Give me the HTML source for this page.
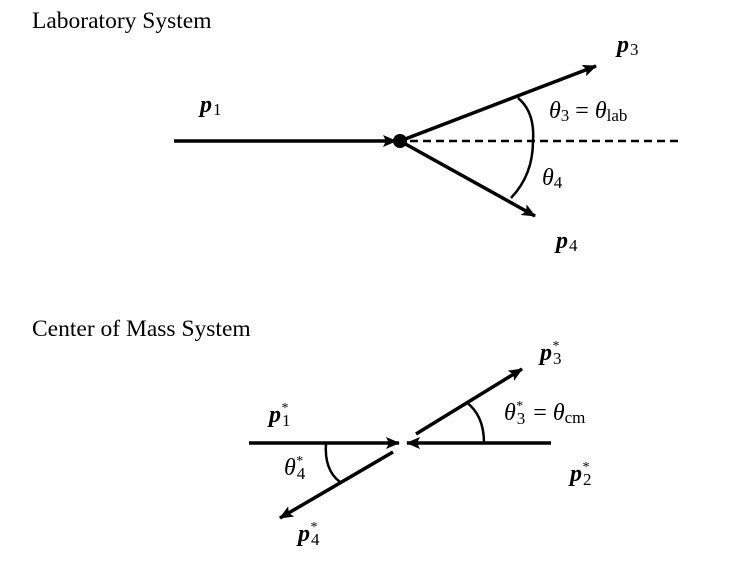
<!DOCTYPE html>
<html><head><style>
body{margin:0;background:#fff;width:756px;height:567px;overflow:hidden}
svg text{font-family:"Liberation Serif",serif}
</style></head><body>
<svg width="756" height="567" viewBox="0 0 756 567">
<defs>
<marker id="b" markerWidth="14" markerHeight="12" refX="13" refY="6" orient="auto" markerUnits="userSpaceOnUse">
<path d="M0,0 L14,6 L0,12 L3,6 Z" fill="#000"/></marker>
</defs>
<text x="32" y="28" font-size="23.5">Laboratory System</text>
<text x="32" y="336" font-size="23.5">Center of Mass System</text>
<g stroke="#000" fill="none">
<line x1="174" y1="141" x2="396" y2="141" stroke-width="3.5" marker-end="url(#b)"/>
<line x1="410" y1="141" x2="680" y2="141" stroke-width="2.5" stroke-dasharray="8,5"/>
<line x1="400" y1="141" x2="596" y2="66" stroke-width="3.5" marker-end="url(#b)"/>
<line x1="400" y1="141" x2="535" y2="216" stroke-width="3.5" marker-end="url(#b)"/>
<path d="M518,98 Q535,112 533,141 Q533,175 511,198" stroke-width="2.5"/>
<line x1="249" y1="443" x2="399" y2="443" stroke-width="3.5" marker-end="url(#b)"/>
<line x1="551" y1="443" x2="407" y2="443" stroke-width="3.5" marker-end="url(#b)"/>
<line x1="416" y1="434" x2="522" y2="369" stroke-width="3.5" marker-end="url(#b)"/>
<line x1="393" y1="452" x2="280" y2="518" stroke-width="3.5" marker-end="url(#b)"/>
<path d="M466,402 Q484,415 484,443" stroke-width="2.5"/>
<path d="M326,443 Q324,470 340,482" stroke-width="2.5"/>
</g>
<circle cx="400" cy="141" r="7" fill="#000"/>
<g font-size="24" font-style="italic">
<text x="200" y="112" font-weight="bold">p<tspan font-size="17" font-style="normal" font-weight="normal" dx="1" dy="3">1</tspan></text>
<text x="617" y="52" font-weight="bold">p<tspan font-size="17" font-style="normal" font-weight="normal" dx="1" dy="3">3</tspan></text>
<text x="556" y="248" font-weight="bold">p<tspan font-size="17" font-style="normal" font-weight="normal" dx="1" dy="3">4</tspan></text>
<text x="549" y="118">θ<tspan font-size="17" font-style="normal" dy="3">3</tspan><tspan font-style="normal" dy="-3"> = </tspan>θ<tspan font-size="17" font-style="normal" dy="3">lab</tspan></text>
<text x="542" y="185">θ<tspan font-size="17" font-style="normal" dy="3">4</tspan></text>
<text x="269" y="422" font-weight="bold">p<tspan font-size="17" font-style="normal" font-weight="normal" dx="1" dy="4">1</tspan><tspan font-size="14" font-style="normal" font-weight="normal" dx="-9" dy="-14">*</tspan></text>
<text x="540" y="360" font-weight="bold">p<tspan font-size="17" font-style="normal" font-weight="normal" dx="1" dy="4">3</tspan><tspan font-size="14" font-style="normal" font-weight="normal" dx="-9" dy="-14">*</tspan></text>
<text x="570" y="481" font-weight="bold">p<tspan font-size="17" font-style="normal" font-weight="normal" dx="1" dy="4">2</tspan><tspan font-size="14" font-style="normal" font-weight="normal" dx="-9" dy="-14">*</tspan></text>
<text x="298" y="541" font-weight="bold">p<tspan font-size="17" font-style="normal" font-weight="normal" dx="1" dy="4">4</tspan><tspan font-size="14" font-style="normal" font-weight="normal" dx="-9" dy="-14">*</tspan></text>
<text x="504" y="420">θ<tspan font-size="17" font-style="normal" dx="1" dy="4">3</tspan><tspan font-size="14" font-style="normal" dx="-9" dy="-14">*</tspan><tspan font-style="normal" dx="4" dy="10"> = </tspan>θ<tspan font-size="17" font-style="normal" dy="3">cm</tspan></text>
<text x="284" y="475">θ<tspan font-size="17" font-style="normal" dx="1" dy="4">4</tspan><tspan font-size="14" font-style="normal" dx="-9" dy="-14">*</tspan></text>
</g>
</svg>
</body></html>
